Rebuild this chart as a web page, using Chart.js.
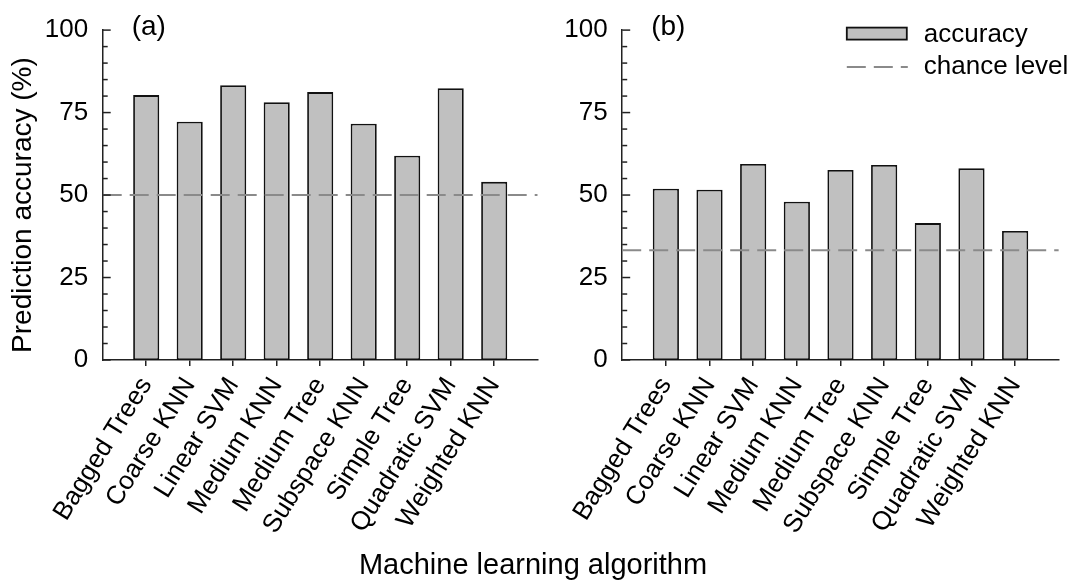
<!DOCTYPE html>
<html>
<head>
<meta charset="utf-8">
<script src="https://cdn.jsdelivr.net/npm/chart.js@4.4.1/dist/chart.umd.min.js"></script>
<style>
  body { margin: 0; background: #fff; }
  #page { position: relative; width: 1077px; height: 584px; overflow: hidden; font-family: "Liberation Sans", Arial, sans-serif; }
  #chartA { position: absolute; left: 0; top: 0; }
  #chartB { position: absolute; left: 540px; top: 0; }
  #xTitle { position: absolute; left: 0; width: 1066px; top: 547px; text-align: center; font-size: 29px; line-height: 34px; color: #000; }
</style>
</head>
<body>
<div id="page">
  <canvas id="chartA" width="540" height="584"></canvas>
  <canvas id="chartB" width="537" height="584"></canvas>
  <div id="xTitle">Machine learning algorithm</div>
</div>
<script>
const algorithms = ['Bagged Trees', 'Coarse KNN', 'Linear SVM', 'Medium KNN', 'Medium Tree',
                    'Subspace KNN', 'Simple Tree', 'Quadratic SVM', 'Weighted KNN'];
const accuracyA = [80.3, 72.2, 83.3, 78.1, 81.2, 71.6, 61.9, 82.4, 54.0];
const accuracyB = [51.9, 51.6, 59.4, 48.0, 57.6, 59.1, 41.5, 58.1, 39.1];
const chanceA = 50;
const chanceB = 33.3;
const yTickValues = [0, 25, 50, 75, 100];
const yMinorStep = 5;

const FONT = '"Liberation Sans", Arial, sans-serif';
const AXIS = '#222';
const BAR_FILL = '#c0c0c0';
const DASH = '#8a8a8a';

// inward y ticks, y title, panel letter and (optional) legend
const panelDecor = {
  id: 'panelDecor',
  afterDatasetsDraw(chart, args, opts) {
    const { ctx, chartArea, scales: { y } } = chart;
    ctx.save();
    ctx.strokeStyle = AXIS;
    ctx.lineWidth = 1.5;
    for (let v = y.min; v <= y.max; v += yMinorStep) {
      const py = y.getPixelForValue(v);
      const len = yTickValues.includes(v) ? 8 : 5;
      ctx.beginPath();
      ctx.moveTo(chartArea.left, py);
      ctx.lineTo(chartArea.left + len, py);
      ctx.stroke();
    }

    ctx.fillStyle = '#000';
    ctx.textAlign = 'left';
    ctx.textBaseline = 'middle';
    ctx.font = '28px ' + FONT;
    ctx.fillText(opts.letter, chartArea.left + 29, chartArea.top - 3);

    if (opts.yTitle) {
      ctx.save();
      ctx.translate(23, (chartArea.top + chartArea.bottom) / 2 + 10);
      ctx.rotate(-Math.PI / 2);
      ctx.textAlign = 'center';
      ctx.fillText(opts.yTitle, 0, 0);
      ctx.restore();
    }

    if (opts.legend) {
      const bars = chart.data.datasets.find(d => d.type !== 'line');
      const chance = chart.data.datasets.find(d => d.type === 'line');
      const bx = chartArea.right - 212;
      const by = chartArea.top - 2.5;
      ctx.fillStyle = bars.backgroundColor;
      ctx.fillRect(bx, by, 60, 12);
      ctx.strokeStyle = bars.borderColor;
      ctx.lineWidth = bars.borderWidth;
      ctx.strokeRect(bx, by, 60, 12);

      ctx.strokeStyle = chance.borderColor;
      ctx.lineWidth = chance.borderWidth;
      ctx.setLineDash(chance.borderDash);
      ctx.beginPath();
      ctx.moveTo(bx, chartArea.top + 37);
      ctx.lineTo(bx + 61, chartArea.top + 37);
      ctx.stroke();
      ctx.setLineDash([]);

      ctx.fillStyle = '#000';
      ctx.font = '26px ' + FONT;
      ctx.fillText(bars.label, bx + 77, by + 7);
      ctx.fillText(chance.label, bx + 77, chartArea.top + 37);
    }
    ctx.restore();
  }
};

function makeChart(id, values, chance, opts) {
  const barData = values.map((v, i) => ({ x: i, y: v }));
  const chanceData = [{ x: -1, y: chance }, { x: algorithms.length, y: chance }];
  return new Chart(document.getElementById(id), {
    type: 'bar',
    data: {
      datasets: [
        {
          type: 'line',
          label: 'chance level',
          data: chanceData,
          borderColor: DASH,
          borderWidth: 2,
          borderDash: [19, 8],
          pointRadius: 0,
          order: 0
        },
        {
          label: 'accuracy',
          data: barData,
          backgroundColor: BAR_FILL,
          borderColor: '#111',
          borderWidth: 1.8,
          borderSkipped: false,
          barPercentage: 0.6,
          categoryPercentage: 1,
          order: 1
        }
      ]
    },
    options: {
      responsive: false,
      animation: false,
      layout: { padding: { top: 24, left: 0, right: opts.rightPad, bottom: 0 } },
      plugins: {
        legend: { display: false },
        tooltip: { enabled: false },
        panelDecor: { letter: opts.letter, legend: opts.legend, yTitle: opts.yTitle }
      },
      scales: {
        x: {
          type: 'linear',
          offset: false,
          min: -1,
          max: algorithms.length,
          afterBuildTicks: s => { s.ticks = algorithms.map((a, i) => ({ value: i })); },
          afterFit: s => { s.height = 224; },
          ticks: {
            autoSkip: false,
            minRotation: 58,
            maxRotation: 58,
            padding: 6,
            labelOffset: 0,
            color: '#000',
            font: { family: FONT, size: 26 },
            callback: v => algorithms[v]
          },
          grid: {
            display: true,
            offset: false,
            drawOnChartArea: false,
            drawTicks: true,
            tickLength: 6,
            color: AXIS,
            lineWidth: 1.5
          },
          border: { display: true, color: AXIS, width: 1.5 }
        },
        y: {
          min: 0,
          max: 100,
          afterBuildTicks: s => { s.ticks = yTickValues.map(v => ({ value: v })); },
          afterFit: s => { s.width = opts.axisWidth; },
          ticks: {
            padding: 14.5,
            color: '#000',
            font: { family: FONT, size: 26 }
          },
          grid: { display: false, drawTicks: false },
          border: { display: true, color: AXIS, width: 1.5 }
        }
      }
    },
    plugins: [panelDecor]
  });
}

makeChart('chartA', accuracyA, chanceA, { letter: '(a)', axisWidth: 102.7, rightPad: 2.3, yTitle: 'Prediction accuracy (%)', legend: false });
makeChart('chartB', accuracyB, chanceB, { letter: '(b)', axisWidth: 82.2, rightPad: 18.2, legend: true });
</script>
</body>
</html>
